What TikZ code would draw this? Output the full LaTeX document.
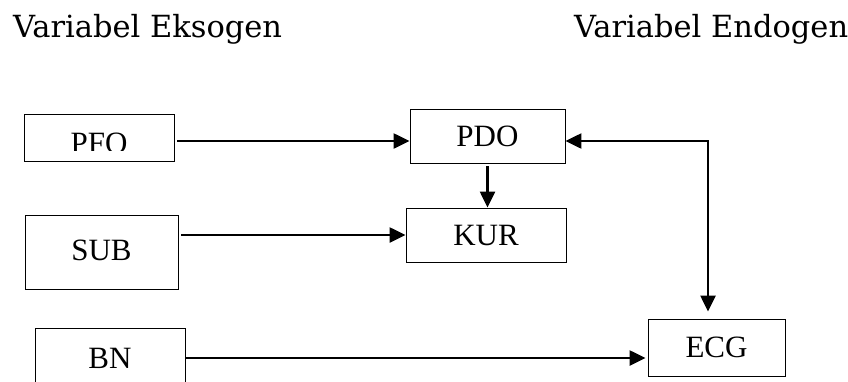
\documentclass[tikz,border=0pt]{standalone}
\usepackage{fontspec}
\setmainfont{Liberation Serif}
\newfontfamily\headfont{DejaVu Serif}
\usetikzlibrary{arrows.meta,positioning,calc}
\tikzset{
  varbox/.style={draw=black, line width=0.9pt, fill=white, inner sep=0pt,
    font=\fontsize{31}{31}\selectfont},
  head/.style={font=\headfont\fontsize{30.5}{32}\selectfont, inner sep=0pt, anchor=base west},
  link/.style={-{Triangle[length=16pt,width=15pt]}, line width=2.4pt},
  twoway/.style={{Triangle[length=16pt,width=15pt]}-{Triangle[length=16pt,width=15pt]}, line width=2.4pt},
}
\begin{document}
\begin{tikzpicture}[x=1pt,y=-1pt]
  \useasboundingbox (0,0) rectangle (848,381);
  % column heads
  \node[head] (exo) at (13,37) {Variabel Eksogen};
  \node[head] (endo) at (574,37) {Variabel Endogen};
  % exogenous boxes
  \node[varbox, minimum width=150pt, minimum height=47pt,
    path picture={
      \clip (path picture bounding box.north west) rectangle ([yshift=11pt]path picture bounding box.south east);
      \node[font=\fontsize{31}{31}\selectfont, inner sep=0pt, anchor=base] at ([yshift=8pt]path picture bounding box.south) {PFO};
    }] (pfo) at (99,137.5) {};
  \node[varbox, minimum width=153pt, minimum height=74pt, text depth=4pt] (sub) at (101.5,252) {SUB};
  \node[varbox, minimum width=150pt, minimum height=60pt] (bn) at (110,358) {BN};
  % endogenous boxes
  \node[varbox, minimum width=155pt, minimum height=54pt] (pdo) at (487.5,136) {PDO};
  \node[varbox, minimum width=160pt, minimum height=54pt] (kur) at (486,235) {KUR};
  \node[varbox, minimum width=137pt, minimum height=57pt] (ecg) at (716.5,347.5) {ECG};
  \coordinate (fb) at (708,141);
  % links
  \draw[link, shorten <=3pt] (pfo.east |- fb) -- (pdo.west |- fb);
  \draw[link, shorten <=3pt] (pdo.south) -- (pdo.south |- kur.north);
  \draw[link, shorten <=3pt] (sub.east |- kur) -- (kur.west);
  \draw[link, shorten <=1pt, shorten >=2pt] (bn.east) -- (bn.east -| ecg.west);
  \draw[twoway, shorten >=7pt] (pdo.east |- fb) -- (fb) -- (fb |- ecg.north);
\end{tikzpicture}
\end{document}
